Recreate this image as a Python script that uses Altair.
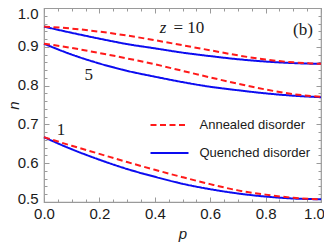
import altair as alt
import pandas as pd

# ---- data ----
p = [0.0, 0.1, 0.2, 0.3, 0.4, 0.5, 0.6, 0.7, 0.8, 0.9, 1.0]
ann_10 = [0.952, 0.947, 0.939, 0.929, 0.917, 0.904, 0.891, 0.878, 0.867, 0.860, 0.856]
que_10 = [0.952, 0.936, 0.921, 0.907, 0.896, 0.885, 0.876, 0.868, 0.862, 0.858, 0.856]
ann_5 = [0.908, 0.897, 0.884, 0.870, 0.855, 0.838, 0.821, 0.805, 0.790, 0.778, 0.771]
que_5 = [0.908, 0.880, 0.857, 0.838, 0.823, 0.809, 0.797, 0.788, 0.780, 0.774, 0.770]
ann_1 = [0.667, 0.645, 0.624, 0.603, 0.583, 0.564, 0.546, 0.530, 0.519, 0.511, 0.507]
que_1 = [0.667, 0.636, 0.609, 0.585, 0.565, 0.547, 0.533, 0.522, 0.514, 0.509, 0.507]

types = ["Annealed disorder", "Quenched disorder"]
x_major = [0.0, 0.2, 0.4, 0.6, 0.8, 1.0]
x_minor = [i / 20 for i in range(21)]
y_major = [0.5, 0.6, 0.7, 0.8, 0.9, 1.0]
y_minor = [0.5 + i / 50 for i in range(26)]

note_text = ["= 10", "(b)", "5", "1"]
note_p = [0.523, 0.935, 0.162, 0.061]
note_n = [0.9356, 0.930, 0.814, 0.673]
italic_text = ["z"]
italic_p = [0.430]
italic_n = [0.9356]

rows = []
for z, ann, que in [(10, ann_10, que_10), (5, ann_5, que_5), (1, ann_1, que_1)]:
    for pi, q in zip(p, que):
        rows.append({"p": pi, "n": q, "type": types[1], "series": f"q{z}"})
for z, ann, que in [(10, ann_10, que_10), (5, ann_5, que_5), (1, ann_1, que_1)]:
    for pi, a in zip(p, ann):
        rows.append({"p": pi, "n": a, "type": types[0], "series": f"a{z}"})
df = pd.DataFrame(rows)
notes = pd.DataFrame({"p": note_p, "n": note_n, "t": note_text})
inotes = pd.DataFrame({"p": italic_p, "n": italic_n, "t": italic_text})

xs = alt.Scale(domain=[0, 1], nice=False, zero=False)
ys = alt.Scale(domain=[0.5, 1], nice=False, zero=False)

FRAME = "#9a9a9a"
LFONT = "Liberation Sans"
SERIF = "Liberation Serif"

def ax(orient, values, size, labels=False, title=None, fmt=".1f", **kw):
    opts = dict(orient=orient, values=values, tickSize=size, offset=-size,
                domain=False, grid=False, labels=labels, tickColor=FRAME,
                tickWidth=1, labelFlush=False)
    if labels:
        opts.update(format=fmt, labelFont=LFONT, labelFontSize=15,
                    labelColor="#1a1a1a")
    if title is not None:
        opts.update(title=title, titleFont=LFONT, titleFontSize=15,
                    titleFontStyle="italic", titleFontWeight="normal",
                    titleColor="#1a1a1a")
    else:
        opts.update(title=None)
    opts.update(kw)
    return alt.Axis(**opts)

y_label_offset = {
    "condition": [
        {"test": "datum.value == 1", "value": 5.5},
        {"test": "datum.value == 0.5", "value": -4},
    ],
    "value": -1,
}
x_label_offset = {
    "condition": {"test": "datum.value == 1", "value": -7},
    "value": 0,
}

lines = alt.Chart(df).mark_line(strokeWidth=2, interpolate="monotone").encode(
    x=alt.X("p:Q", scale=xs, axis=ax("bottom", x_major, 5, labels=True, title="p",
                                      labelPadding=4, titlePadding=5,
                                      labelOffset=x_label_offset)),
    y=alt.Y("n:Q", scale=ys, axis=ax("left", y_major, 5, labels=True, title="n",
                                      labelPadding=6, titlePadding=-4,
                                      labelOffset=y_label_offset)),
    color=alt.Color("type:N", scale=alt.Scale(domain=types, range=["#ff1a1a", "#0c0cf0"]),
                    title=None),
    strokeDash=alt.StrokeDash("type:N", scale=alt.Scale(domain=types, range=[[6, 3.5], [1, 0]]),
                              title=None),
    detail="series:N",
)

def axis_layer(xa, ya):
    return alt.Chart(df).mark_point(opacity=0, size=0).encode(
        x=alt.X("p:Q", scale=xs, axis=xa),
        y=alt.Y("n:Q", scale=ys, axis=ya),
    )

l2 = axis_layer(ax("bottom", x_minor, 3), ax("left", y_minor, 3))
l3 = axis_layer(ax("top", x_major, 5), ax("right", y_major, 5))
l4 = axis_layer(ax("top", x_minor, 3), ax("right", y_minor, 3))

txt = alt.Chart(notes).mark_text(font=SERIF, fontSize=17, color="#1a1a1a",
                                 baseline="alphabetic", align="center").encode(
    x=alt.X("p:Q", scale=xs, axis=None),
    y=alt.Y("n:Q", scale=ys, axis=None),
    text="t:N",
)
itxt = alt.Chart(inotes).mark_text(font=SERIF, fontSize=17, fontStyle="italic",
                                   color="#1a1a1a", baseline="alphabetic",
                                   align="center").encode(
    x=alt.X("p:Q", scale=xs, axis=None),
    y=alt.Y("n:Q", scale=ys, axis=None),
    text="t:N",
)

chart = alt.layer(lines, l2, l3, l4, txt, itxt).resolve_axis(
    x="independent", y="independent"
).properties(
    width=277, height=194, autosize="none",
    padding={"left": 36, "top": 0, "right": 3, "bottom": 40},
).configure_view(
    stroke=FRAME, strokeWidth=1.2
).configure_legend(
    orient="none", legendX=115, legendY=106.5, padding=0,
    labelFont=LFONT, labelFontSize=13, labelColor="#1a1a1a",
    symbolType="M-2,0H2", symbolSize=361, symbolStrokeWidth=2,
    labelOffset=19.5, rowPadding=10, titlePadding=0,
)

chart.save("out.html", embed_options={"renderer": "svg", "actions": False})
